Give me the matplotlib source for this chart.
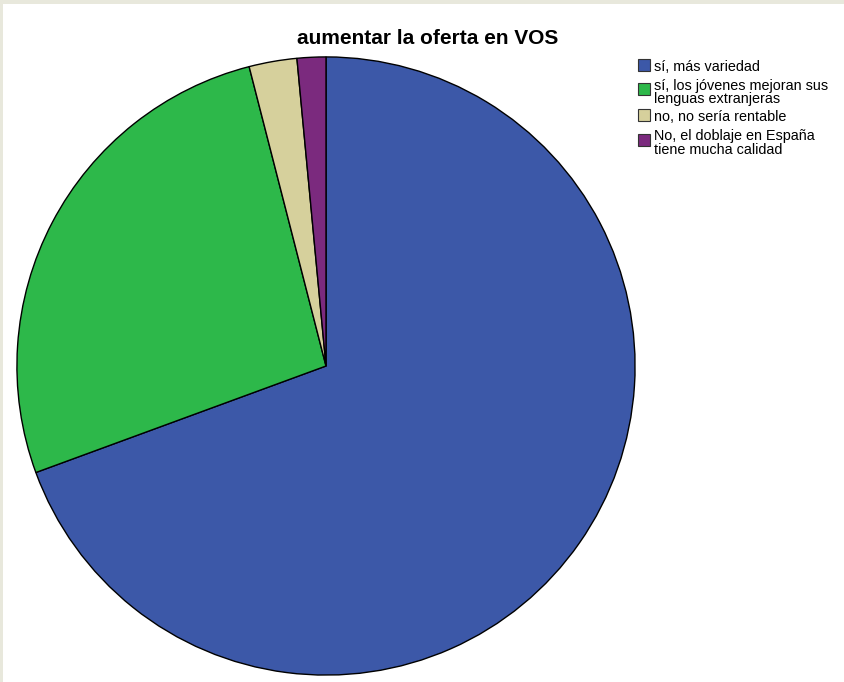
import matplotlib.pyplot as plt
from matplotlib.patches import Rectangle

# data (percent of answers)
labels = ["sí, más variedad",
          "sí, los jóvenes mejoran sus\nlenguas extranjeras",
          "no, no sería rentable",
          "No, el doblaje en España\ntiene mucha calidad"]
shares = [69.4, 26.6, 2.5, 1.5]
colors = ["#3C58A8", "#2DB84A", "#D6D09C", "#7B2A7E"]
title = "aumentar la oferta en VOS"

plt.rcParams['font.family'] = ['Liberation Sans', 'DejaVu Sans']

W, H = 844, 682
fig = plt.figure(figsize=(W / 100, H / 100), dpi=100)
fig.patch.set_facecolor("white")

# beige frame strips on top and left
fig.add_artist(Rectangle((0, 1 - 4 / H), 1, 4 / H, transform=fig.transFigure,
                         facecolor="#E8E8DC", edgecolor="none"))
fig.add_artist(Rectangle((0, 0), 3 / W, 1, transform=fig.transFigure,
                         facecolor="#E8E8DC", edgecolor="none"))

# pie: centre (326, 366) px, radius 310 px
cx, cy, r = 326, 366, 310
ax = fig.add_axes([(cx - r) / W, (H - cy - r) / H, 2 * r / W, 2 * r / H])
ax.pie(shares, colors=colors, startangle=90, counterclock=False, radius=1,
       wedgeprops=dict(edgecolor="black", linewidth=1))
ax.set_xlim(-1.003, 1.003)
ax.set_ylim(-1.003, 1.003)
ax.set_aspect("equal")
ax.axis("off")

fig.text(428 / W, 1 - 39 / H, title, ha="center", va="center",
         fontsize=15, fontweight="bold")

# legend drawn by hand, one text line at a time
box_top = [59, 83, 109, 134]
first_base = [71, 90, 121, 140]
for lab, col, yb, yt in zip(labels, colors, box_top, first_base):
    fig.add_artist(Rectangle((638 / W, 1 - (yb + 12) / H), 12 / W, 12 / H,
                             transform=fig.transFigure, facecolor=col,
                             edgecolor="#333333", linewidth=0.8))
    for i, line in enumerate(lab.split("\n")):
        fig.text(654 / W, 1 - (yt + 13.5 * i) / H, line, ha="left",
                 va="baseline", fontsize=10.4)

fig.savefig("out.png", dpi=100)
